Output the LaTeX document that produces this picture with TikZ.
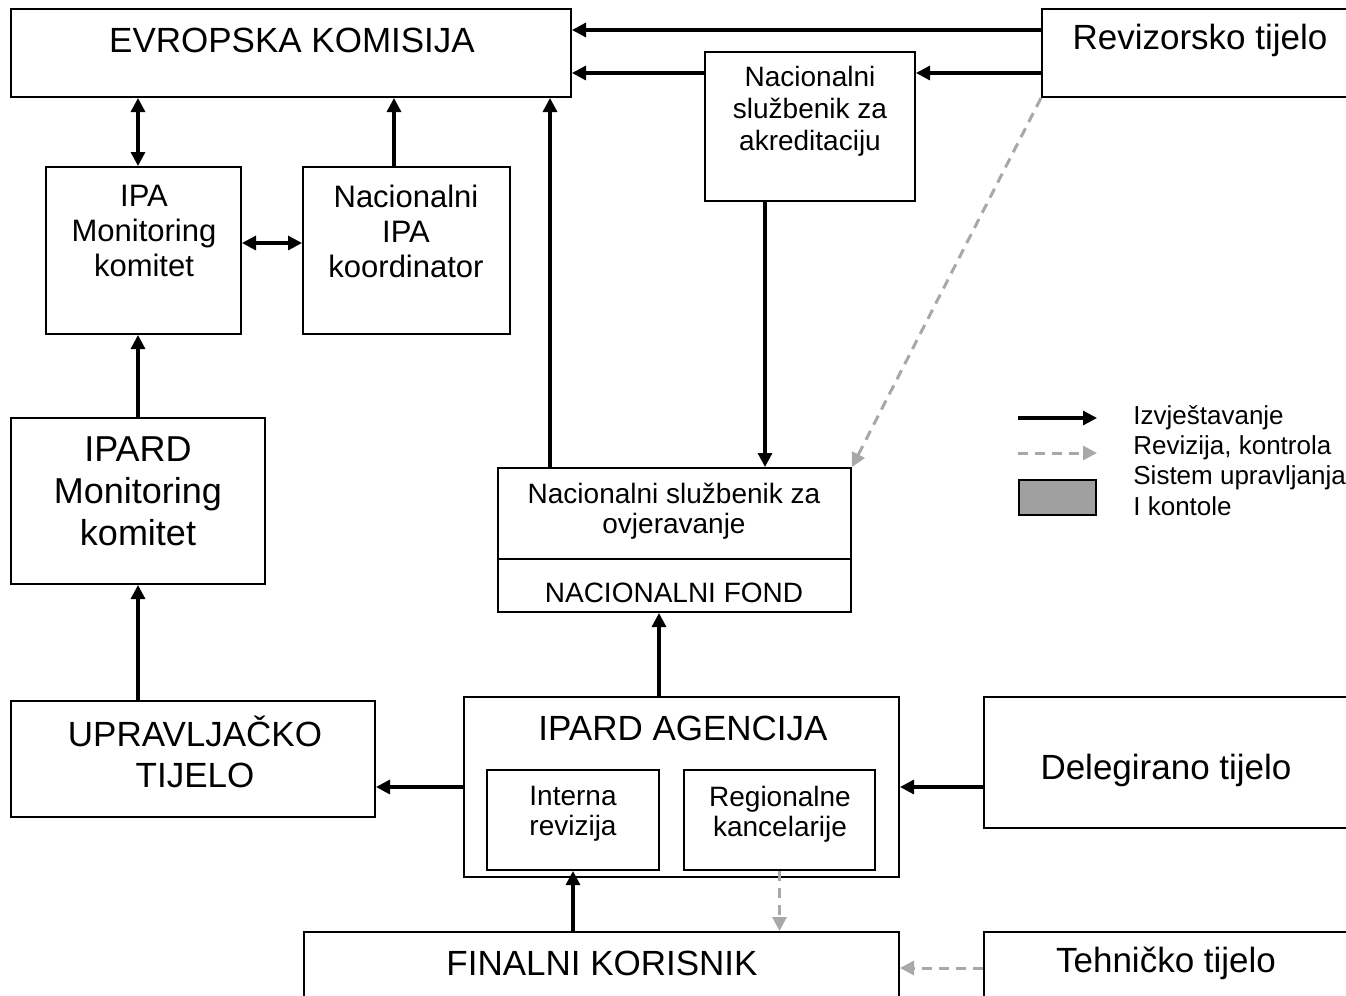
\documentclass[tikz,border=0pt]{standalone}
\usepackage{fontspec}
\setmainfont{Liberation Sans}
\usetikzlibrary{arrows.meta,calc}
\begin{document}
\begin{tikzpicture}[x=0.5pt,y=-0.5pt,
  box/.style={draw=black,line width=1pt,rectangle,inner sep=0pt},
  txt/.style={inner sep=0pt,align=center,font=\fontsize{#1}{#1}\selectfont},
  txt/.default=17.5,
  arr/.style={line width=1.6pt,-{Triangle[length=7pt,width=7pt]}},
  darr/.style={line width=1.6pt,{Triangle[length=7pt,width=7pt]}-{Triangle[length=7pt,width=7pt]}},
  garr/.style={line width=1.5pt,draw={rgb,255:red,168;green,168;blue,168},dash pattern=on 5pt off 3.5pt,-{Triangle[length=7pt,width=7pt,fill={rgb,255:red,168;green,168;blue,168}]}}
]
\useasboundingbox (0,0) rectangle (1346,996);
\clip (0,0) rectangle (1346,996);
% boxes
\node[box,minimum width=280pt,minimum height=44pt] (ek) at (291,53) {};
\node[box,minimum width=159pt,minimum height=44pt] (rev) at (1201,53) {};
\node[box,minimum width=105pt,minimum height=74.5pt,fill=white] (nsa) at (810,126.5) {};
\node[box,minimum width=97.5pt,minimum height=83.5pt] (ipamk) at (143.5,250.5) {};
\node[box,minimum width=103.5pt,minimum height=83.5pt] (nik) at (406.5,250.5) {};
\node[box,minimum width=127pt,minimum height=83pt] (ipardmk) at (138,501) {};
\node[box,minimum width=182pt,minimum height=58pt] (ut) at (193,759) {};
\node[box,minimum width=176.5pt,minimum height=72pt] (nso) at (674.5,540) {};
\node[box,minimum width=217.5pt,minimum height=90pt] (ag) at (681.5,787) {};
\node[box,minimum width=86pt,minimum height=50pt] (ir) at (573,820) {};
\node[box,minimum width=95.5pt,minimum height=50pt] (rk) at (779.5,820) {};
\node[box,minimum width=188pt,minimum height=65.5pt] (dt) at (1172,762.5) {};
\node[box,minimum width=297.5pt,minimum height=39pt] (fk) at (601.5,971) {};
\node[box,minimum width=188pt,minimum height=39pt] (tt) at (1172,971) {};
\draw[line width=1pt] (nso.west |- 0,559) -- (nso.east |- 0,559);
% texts
\node[txt] (tek) at (292,40) {EVROPSKA KOMISIJA};
\node[txt] (trev) at (1200,40) {Revizorsko tijelo};
\node[txt=14] (tnsa) at (810,111) {Nacionalni\\[2pt]službenik za\\[2pt]akreditaciju};
\node[txt=15.5] (tipamk) at (144,231) {IPA\\[2pt]Monitoring\\[2pt]komitet};
\node[txt=15.5] (tnik) at (406,231) {Nacionalni\\[2pt]IPA\\[2pt]koordinator};
\node[txt=18] (tipardmk) at (138,491) {IPARD\\[3pt]Monitoring\\[3pt]komitet};
\node[txt] (tut) at (195,752) {UPRAVLJAČKO\\[3pt]TIJELO};
\node[txt=14] (tnso) at (674,511) {Nacionalni službenik za\\[1pt]ovjeravanje};
\node[txt=14] (tnf) at (674,593) {NACIONALNI FOND};
\node[txt] (tag) at (683,728) {IPARD AGENCIJA};
\node[txt=14] (tir) at (573,814) {Interna\\[1pt]revizija};
\node[txt=14] (trk) at (780,814) {Regionalne\\[1pt]kancelarije};
\node[txt] (tdt) at (1166,770) {Delegirano tijelo};
\node[txt=17.5] (tfk) at (602,963) {FINALNI KORISNIK};
\node[txt] (ttt) at (1166,963) {Tehničko tijelo};
% legend
\coordinate (l1a) at (1018,418); \coordinate (l1b) at (1097,418);
\coordinate (l2a) at (1018,453); \coordinate (l2b) at (1097,453);
\draw[arr] (l1a) -- (l1b);
\draw[garr] (l2a) -- (l2b);
\node[box,minimum width=38.5pt,minimum height=17.5pt,fill={rgb,255:red,160;green,160;blue,160}] (lrect) at (1057.5,497.5) {};
\node[txt=13,anchor=west] (lt1) at (1133,418) {Izvještavanje};
\node[txt=13,anchor=west] (lt2) at (1133,448) {Revizija, kontrola};
\node[txt=13,anchor=west] (lt3) at (1133,478) {Sistem upravljanja};
\node[txt=13,anchor=west] (lt4) at (1133,506) {I kontole};
% connector anchor points
\coordinate (revA) at ($(rev.west)+(0,-23)$);
\coordinate (revB) at ($(rev.west)+(0,20)$);
\coordinate (nsoU) at ($(nso.north west)+(53,0)$);
\coordinate (nsaD) at ($(nsa.south)+(-45,0)$);
\coordinate (ipaU) at ($(ipamk.north)+(-5.5,0)$);
\coordinate (nikU) at ($(nik.north)+(-12.5,0)$);
\coordinate (ipaR) at ($(ipamk.east)+(0,-7.5)$);
\coordinate (agU) at ($(ag.north)+(-22.5,0)$);
\coordinate (ttL) at ($(tt.west)+(0,-3)$);
% connectors
\draw[arr] (revA) -- (ek.east |- revA);
\draw[arr] (revB) -- (nsa.east |- revB);
\draw[arr] (nsa.west |- revB) -- (ek.east |- revB);
\draw[arr] (nsoU) -- (ek.south -| nsoU);
\draw[arr] (nsaD) -- (nso.north -| nsaD);
\draw[garr] (rev.south west) -- (nso.north east);
\draw[darr] (ek.south -| ipaU) -- (ipaU);
\draw[arr] (nikU) -- (ek.south -| nikU);
\draw[darr] (ipaR) -- (nik.west |- ipaR);
\draw[arr] (ipardmk.north) -- (ipamk.south -| ipardmk.north);
\draw[arr] (ut.north -| ipardmk.south) -- (ipardmk.south);
\draw[arr] (agU) -- (nso.south -| agU);
\draw[arr] (ag.west) -- (ut.east |- ag.west);
\draw[arr] (dt.west |- ag.east) -- (ag.east);
\draw[arr] (fk.north -| ir.south) -- (ir.south);
\draw[garr] (rk.south) -- (fk.north -| rk.south);
\draw[garr] (ttL) -- (fk.east |- ttL);
\end{tikzpicture}
\end{document}
